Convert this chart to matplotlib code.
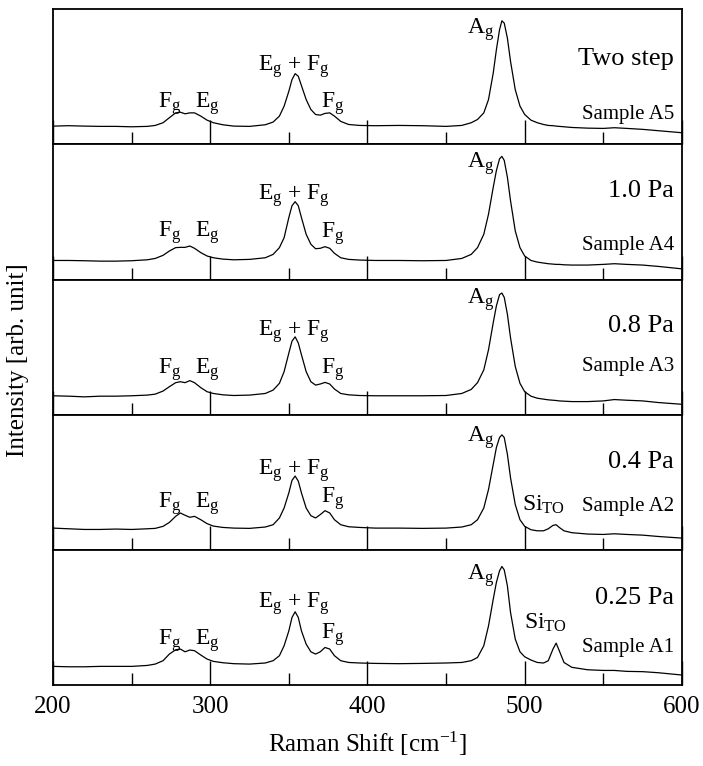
import matplotlib.pyplot as plt
from matplotlib.ticker import MultipleLocator

plt.rcParams['font.family'] = 'Liberation Serif'
plt.rcParams['mathtext.fontset'] = 'custom'
plt.rcParams['mathtext.rm'] = 'Liberation Serif'
plt.rcParams['mathtext.it'] = 'Liberation Serif:italic'

# Raman shift (cm-1) sample points
shift = [200, 210, 220, 230, 240, 250, 260, 265, 270, 274, 278, 281, 284, 287, 290,
         294, 298, 302, 308, 315, 325, 335, 340, 344, 347, 350, 352, 354, 356, 358,
         361, 364, 367, 370, 373, 376, 379, 383, 388, 395, 405, 420, 435, 450, 460,
         466, 470, 474, 477, 480, 482, 484, 485.5, 487, 489, 491, 494, 497, 500, 504,
         508, 512, 515, 518, 520, 522, 525, 530, 540, 550, 557, 565, 575, 585, 600]

# intensities (arb. unit, 0 = panel bottom, 100 = panel top)
a5 = [13.5, 13.8, 13.5, 13.3, 13.3, 13.0, 13.3, 14.0, 16.0, 19.7, 23.3, 23.8, 22.6, 23.3, 23.3,
      20.9, 17.9, 16.0, 14.5, 13.5, 13.3, 14.5, 16.5, 20.9, 28.3, 39.3, 47.9, 52.3, 50.4, 43.5,
      33.2, 25.8, 22.1, 21.6, 22.9, 23.3, 20.9, 17.0, 14.7, 14.0, 13.8, 14.0, 13.8, 13.3, 14.0,
      16.0, 18.4, 23.3, 33.2, 52.8, 70.0, 84.8, 91.4, 89.7, 78.6, 61.4, 40.5, 28.3, 22.1, 17.9,
      16.0, 14.7, 14.0, 13.8, 13.5, 13.3, 13.0, 12.5, 12.0, 11.8, 12.3, 11.8, 11.1, 10.1, 8.6]
a4 = [14.1, 14.1, 13.9, 13.6, 13.6, 13.9, 14.6, 15.6, 17.9, 21.1, 23.6, 23.8, 23.8, 24.8, 23.1,
      19.9, 17.4, 16.1, 15.1, 14.6, 14.9, 16.1, 18.6, 23.6, 31.0, 45.9, 54.6, 57.6, 54.6, 45.9,
      33.5, 26.1, 22.8, 23.1, 24.3, 23.1, 19.4, 16.1, 14.9, 14.4, 14.1, 14.1, 13.9, 14.1, 15.6,
      18.6, 23.6, 33.5, 48.4, 68.2, 80.6, 89.3, 91.1, 88.1, 75.7, 58.3, 36.0, 23.6, 17.4, 14.1,
      12.9, 12.2, 11.7, 11.4, 11.2, 11.2, 10.9, 10.7, 10.7, 11.2, 11.7, 11.2, 10.7, 9.7, 7.9]
a3 = [14.0, 13.7, 13.2, 13.7, 13.7, 14.0, 14.5, 15.2, 17.5, 20.7, 23.7, 24.4, 23.7, 25.2, 23.7,
      20.0, 17.0, 15.7, 14.7, 14.2, 14.5, 15.7, 18.2, 23.2, 31.9, 45.6, 54.4, 57.6, 53.1, 44.4,
      31.9, 24.4, 21.9, 22.7, 23.9, 22.7, 19.0, 15.7, 14.7, 14.2, 14.0, 14.0, 14.0, 14.2, 15.7,
      18.7, 23.7, 33.2, 48.1, 68.1, 80.5, 88.8, 90.0, 86.8, 74.3, 56.9, 35.7, 23.2, 17.0, 13.7,
      12.2, 11.5, 11.0, 10.7, 10.5, 10.2, 10.0, 9.7, 9.7, 10.2, 11.2, 10.7, 10.2, 9.0, 7.7]
a2 = [16.1, 15.6, 15.1, 15.1, 15.4, 15.1, 15.6, 15.9, 17.4, 20.3, 24.8, 27.3, 25.6, 24.1, 24.8,
      22.3, 19.4, 17.6, 16.6, 16.1, 15.9, 16.9, 18.6, 23.6, 31.0, 42.2, 51.4, 54.6, 50.9, 42.2,
      31.0, 25.3, 23.6, 26.1, 29.0, 27.3, 22.3, 18.6, 17.1, 16.6, 16.1, 16.1, 15.9, 16.1, 16.9,
      18.6, 22.3, 31.0, 44.7, 63.3, 75.7, 83.1, 85.1, 83.1, 70.7, 53.3, 33.5, 22.3, 17.4, 14.9,
      14.1, 14.1, 15.6, 18.1, 18.6, 16.6, 14.1, 12.7, 11.7, 11.4, 11.9, 11.4, 10.9, 9.9, 8.7]
a1 = [13.8, 13.5, 13.5, 13.8, 13.8, 13.8, 14.5, 15.5, 18.0, 22.9, 26.1, 26.6, 24.6, 25.9, 25.4,
      22.2, 19.2, 17.5, 16.5, 15.8, 15.5, 16.3, 18.0, 21.7, 29.1, 40.1, 50.0, 54.2, 50.0, 40.1,
      30.3, 24.6, 22.9, 24.6, 27.8, 26.6, 21.7, 18.0, 16.7, 16.3, 16.0, 15.8, 16.0, 16.3, 16.7,
      18.0, 20.4, 29.1, 43.8, 63.5, 75.9, 84.5, 87.7, 85.2, 73.4, 53.7, 34.0, 24.6, 20.9, 18.5,
      16.7, 16.3, 18.0, 26.6, 31.0, 25.4, 16.7, 13.1, 11.3, 10.8, 10.8, 10.1, 9.9, 9.1, 7.4]

spectra = [a5, a4, a3, a2, a1]
conditions = ['Two step', '1.0 Pa', '0.8 Pa', '0.4 Pa', '0.25 Pa']
samples = ['Sample A5', 'Sample A4', 'Sample A3', 'Sample A2', 'Sample A1']

# label heights in each panel: (Fg/Eg low, Eg+Fg, right Fg, Ag, condition, sample)
label_y = [
    (27.0, 54.5, 27.0, 81.8, 59.0, 18.4),
    (31.5, 58.8, 31.0, 83.0, 60.8, 21.6),
    (30.7, 58.6, 30.2, 82.3, 61.0, 32.0),
    (31.0, 55.8, 34.7, 80.0, 60.8, 29.0),
    (29.6, 57.4, 34.0, 77.8, 59.9, 24.6),
]
si_label_y = {3: 29.0, 4: 41.9}
si_label_x = {3: 512, 4: 513.5}

fig = plt.figure(figsize=(7.03, 7.66), dpi=100)
axes = fig.subplots(5, 1, sharex=True)
fig.subplots_adjust(left=0.0754, right=0.970, top=0.988, bottom=0.1057, hspace=0)

for i, ax in enumerate(axes):
    ax.plot(shift, spectra[i], color='black', linewidth=0.9)
    ax.set_xlim(200, 600)
    ax.set_ylim(0, 100)
    ax.set_yticks([])
    ax.xaxis.set_major_locator(MultipleLocator(100))
    ax.xaxis.set_minor_locator(MultipleLocator(50))
    ax.tick_params(axis='x', which='major', direction='in', length=17, width=1,
                   labelsize=18, pad=8)
    ax.tick_params(axis='x', which='minor', direction='in', length=8.5, width=1)
    for sp in ax.spines.values():
        sp.set_linewidth(1.3)

    lo, mid, rf, ag, cond_y, samp_y = label_y[i]
    ax.text(274, lo, r'$\mathrm{F_g}$', fontsize=17, ha='center', va='baseline')
    ax.text(298, lo, r'$\mathrm{E_g}$', fontsize=17, ha='center', va='baseline')
    ax.text(353, mid, r'$\mathrm{E_g}$ + $\mathrm{F_g}$', fontsize=17, ha='center',
            va='baseline')
    ax.text(378, rf, r'$\mathrm{F_g}$', fontsize=17, ha='center', va='baseline')
    ax.text(472, ag, r'$\mathrm{A_g}$', fontsize=17, ha='center', va='baseline')
    ax.text(595, cond_y, conditions[i], fontsize=19, ha='right', va='baseline')
    ax.text(595, samp_y, samples[i], fontsize=15, ha='right', va='baseline')
    if i in si_label_y:
        ax.text(si_label_x[i], si_label_y[i], r'$\mathrm{Si_{TO}}$', fontsize=17,
                ha='center', va='baseline')

axes[-1].set_xlabel('Raman Shift [cm$^{\\mathrm{-1}}$]', fontsize=18, labelpad=8)
fig.text(0.026, 0.53, 'Intensity [arb. unit]', fontsize=18, rotation=90,
         ha='center', va='center')

fig.savefig('out.png', dpi=100)
